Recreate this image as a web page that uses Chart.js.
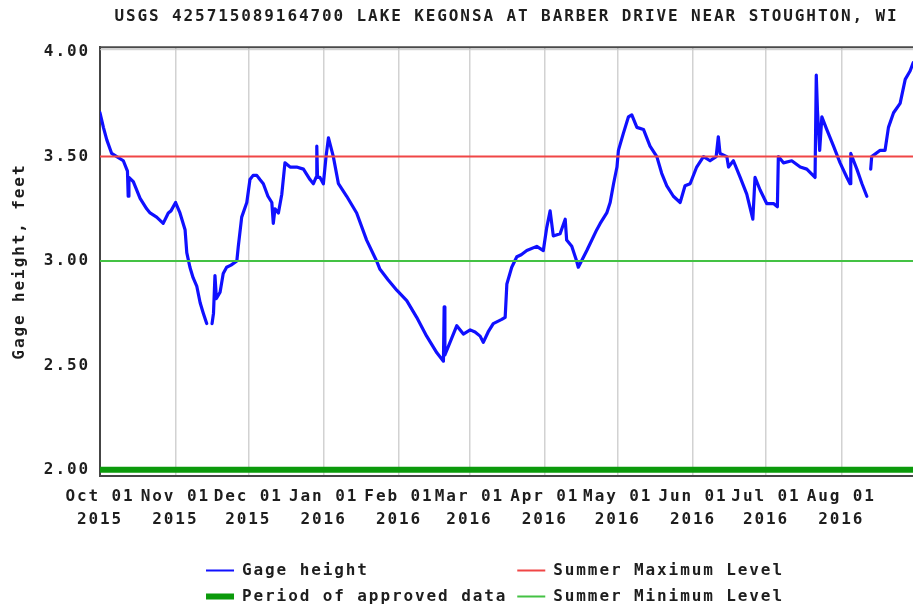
<!DOCTYPE html>
<html>
<head>
<meta charset="utf-8">
<script src="https://cdn.jsdelivr.net/npm/chart.js@4.4.1/dist/chart.umd.min.js"></script>
<style>
  html, body { margin: 0; padding: 0; background: #ffffff; }
  canvas { display: block; }
</style>
</head>
<body>
<canvas id="c" width="913" height="609"></canvas>
<script>
// ---- Data (days since Oct 01 2015, gage height in feet) ----
const chartTitle = "USGS 425715089164700 LAKE KEGONSA AT BARBER DRIVE NEAR STOUGHTON, WI";
const yAxisTitle = "Gage height, feet";

const gageDays = [
  0.0, 1.4, 2.8, 4.8, 6.9, 9.6, 11.3, 11.6, 11.9, 13.7, 16.5, 19.2, 20.6, 23.3, 26.0, 28.1, 29.2, 31.1, 32.9, 35.0,
  35.7, 37.0, 38.3, 39.8, 41.2, 42.5, 43.9, 45.0, 46.1, 46.7, 47.3, 47.9, 49.4, 50.7, 52.1, 53.9, 56.3, 56.9, 58.3,
  60.4, 61.7, 63.0, 64.5, 65.8, 67.2, 69.1, 70.7, 71.3, 72.0, 73.4, 74.8, 76.1, 78.2, 80.9, 83.7, 86.4, 87.8, 88.9,
  89.2, 89.5, 90.5, 91.9, 93.0, 94.0, 96.0, 98.1, 101.5, 105.6, 109.7, 113.8, 115.2, 118.5, 122.1, 126.2, 130.3,
  134.4, 138.6, 141.3, 141.6, 141.9, 143.3, 146.8, 149.5, 152.3, 154.3, 156.4, 157.7, 159.7, 161.8, 165.3, 166.7,
  167.4, 169.4, 171.5, 173.3, 175.6, 179.7, 182.4, 183.8, 185.2, 186.5, 189.3, 191.4, 192.0, 194.1, 196.1, 196.8,
  200.3, 204.4, 205.8, 208.5, 209.9, 211.3, 212.7, 213.3, 215.3, 217.4, 218.8, 220.9, 223.6, 226.3, 229.1, 231.1,
  233.2, 235.9, 238.7, 240.7, 242.8, 245.5, 248.3, 251.0, 253.5, 254.4, 255.1, 257.9, 258.6, 260.6, 263.4, 266.1,
  268.6, 269.5, 271.6, 274.3, 277.1, 278.7, 279.1, 281.2, 284.6, 288.1, 290.8, 294.2, 294.7, 295.2, 296.1, 297.0,
  299.0, 301.8, 304.5, 307.3, 308.6, 308.9, 311.4, 313.5, 315.5, 316.3, 317.1, 317.5, 321.0, 323.0, 324.4, 326.5,
  329.2, 331.3, 333.3, 334.6
];
const gageFeet = [
  3.71, 3.64, 3.58, 3.515, 3.50, 3.48, 3.43, 3.31, 3.40, 3.38, 3.30, 3.25, 3.23, 3.21, 3.18, 3.23, 3.24, 3.28, 3.23, 3.15,
  3.04, 2.97, 2.92, 2.88, 2.80, 2.75, 2.70, null, 2.70, 2.75, 2.93, 2.82, 2.85, 2.94, 2.97, 2.98, 3.00, 3.07, 3.21,
  3.28, 3.39, 3.41, 3.41, 3.39, 3.37, 3.31, 3.28, 3.18, 3.25, 3.23, 3.32, 3.47, 3.45, 3.45, 3.44, 3.39, 3.37, 3.40,
  3.55, 3.40, 3.40, 3.37, 3.50, 3.59, 3.50, 3.37, 3.31, 3.23, 3.10, 3.00, 2.96, 2.91, 2.86, 2.81, 2.73,
  2.64, 2.56, 2.52, 2.78, 2.55, 2.59, 2.69, 2.65, 2.67, 2.66, 2.64, 2.61, 2.66, 2.70, 2.72, 2.73,
  2.89, 2.97, 3.02, 3.03, 3.05, 3.07, 3.05, 3.16, 3.24, 3.12, 3.13, 3.20, 3.10, 3.07, 3.00, 2.97,
  3.05, 3.15, 3.18, 3.23, 3.28, 3.37, 3.45, 3.53, 3.61, 3.69, 3.70, 3.64, 3.63, 3.55, 3.50, 3.42,
  3.36, 3.31, 3.28, 3.36, 3.37, 3.45, 3.50, 3.48, 3.50, 3.595, 3.515, 3.50, 3.45, 3.48, 3.40, 3.32,
  3.20, 3.40, 3.34, 3.275, 3.275, 3.26, 3.50, 3.47, 3.48, 3.45, 3.44, 3.40, 3.89, 3.72, 3.53, 3.69,
  3.63, 3.55, 3.47, 3.40, 3.37, 3.515, 3.44, 3.37, 3.31, null, 3.44, 3.50, 3.53, 3.53, 3.64, 3.71,
  3.755, 3.87, 3.91, 3.95
];

const summerMaximumLevel = 3.5;
const summerMinimumLevel = 3.0;
const approvedDataLevel = 2.0;

const xStartDay = 0;
const xEndDay = 334.5;
const monthTickDays = [0, 31, 61, 92, 123, 152, 183, 213, 244, 274, 305];
const monthTickLabels = [
  ["Oct 01", "2015"], ["Nov 01", "2015"], ["Dec 01", "2015"], ["Jan 01", "2016"],
  ["Feb 01", "2016"], ["Mar 01", "2016"], ["Apr 01", "2016"], ["May 01", "2016"],
  ["Jun 01", "2016"], ["Jul 01", "2016"], ["Aug 01", "2016"]
];
const yTickValues = [2.0, 2.5, 3.0, 3.5, 4.0];
const yMin = 1.97;
const yMax = 4.024;

const legendNames = ["Gage height", "Summer Maximum Level", "Period of approved data", "Summer Minimum Level"];

// ---- Styles ----
const FONT = "'DejaVu Sans Mono', 'Liberation Mono', monospace";
const FSIZE = 16;
const LSPACE = '1.9px';
const TEXT = '#1e1e1e';
const BLUE = '#1010ff';
const RED = '#f04646';
const GREEN_THIN = '#44c244';
const GREEN_THICK = '#0b9a0b';

const gagePoints = gageDays.map((d, i) => ({ x: d, y: gageFeet[i] }));
const levelLine = (v) => [{ x: xStartDay, y: v }, { x: xEndDay, y: v }];

// pad names so the two legend columns line up (monospace font)
const padTo = (s, n) => s + ' '.repeat(Math.max(0, n - s.length));
const col1Len = Math.max(legendNames[0].length, legendNames[2].length);
const col2Len = Math.max(legendNames[1].length, legendNames[3].length) + 2;

const spacingPlugin = {
  id: 'spacing',
  beforeUpdate(c) { c.ctx.letterSpacing = LSPACE; },
  beforeLayout(c) { c.ctx.letterSpacing = LSPACE; },
  beforeDraw(c) { c.ctx.letterSpacing = LSPACE; }
};

const frameTopPlugin = {
  id: 'frameTop',
  afterDraw(c) {
    const a = c.chartArea, ctx = c.ctx;
    ctx.save();
    ctx.strokeStyle = '#4a4a4a';
    ctx.lineWidth = 2;
    ctx.beginPath();
    ctx.moveTo(a.left, a.top);
    ctx.lineTo(a.right, a.top);
    ctx.stroke();
    ctx.strokeStyle = '#c8c8c8';
    ctx.lineWidth = 1;
    ctx.beginPath();
    ctx.moveTo(a.left, a.top + 2.5);
    ctx.lineTo(a.right, a.top + 2.5);
    ctx.stroke();
    ctx.restore();
  }
};

new Chart(document.getElementById('c'), {
  type: 'line',
  data: {
    datasets: [
      { label: legendNames[1], data: levelLine(summerMaximumLevel), borderColor: RED, borderWidth: 2, order: 0 },
      { label: legendNames[3], data: levelLine(summerMinimumLevel), borderColor: GREEN_THIN, borderWidth: 2, order: 0 },
      { label: legendNames[2], data: levelLine(approvedDataLevel), borderColor: GREEN_THICK, borderWidth: 6, order: 0 },
      { label: legendNames[0], data: gagePoints, borderColor: BLUE, borderWidth: 3.2, order: 1, spanGaps: false }
    ]
  },
  options: {
    responsive: false,
    animation: false,
    devicePixelRatio: 1,
    parsing: false,
    elements: { point: { radius: 0 }, line: { tension: 0, borderJoinStyle: 'round', borderCapStyle: 'round' } },
    layout: { padding: { left: 0, right: 0, top: 0, bottom: -5.5 } },
    plugins: {
      tooltip: { enabled: false },
      title: {
        display: true,
        text: chartTitle,
        fullSize: false,
        color: TEXT,
        font: { family: FONT, size: FSIZE, weight: 'bold', lineHeight: 1.2 },
        padding: { top: 7, bottom: 21 }
      },
      legend: {
        position: 'bottom',
        fullSize: false,
        labels: {
          usePointStyle: true,
          pointStyleWidth: 28,
          padding: 10,
          color: TEXT,
          font: { family: FONT, size: FSIZE, weight: 'bold' },
          generateLabels() {
            return [
              { text: padTo(legendNames[0], col1Len), strokeStyle: BLUE, fillStyle: BLUE, lineWidth: 2, pointStyle: 'line', fontColor: TEXT },
              { text: padTo(legendNames[1], col2Len), strokeStyle: RED, fillStyle: RED, lineWidth: 2, pointStyle: 'line', fontColor: TEXT },
              { text: padTo(legendNames[2], col1Len), strokeStyle: GREEN_THICK, fillStyle: GREEN_THICK, lineWidth: 6, pointStyle: 'line', fontColor: TEXT },
              { text: padTo(legendNames[3], col2Len), strokeStyle: GREEN_THIN, fillStyle: GREEN_THIN, lineWidth: 2, pointStyle: 'line', fontColor: TEXT }
            ];
          }
        }
      }
    },
    scales: {
      x: {
        type: 'linear',
        min: xStartDay,
        max: xEndDay,
        afterBuildTicks(scale) { scale.ticks = monthTickDays.map(v => ({ value: v })); },
        afterFit(scale) { scale.height = 76.5; },
        ticks: {
          autoSkip: false,
          maxRotation: 0,
          minRotation: 0,
          padding: 9,
          color: TEXT,
          font: { family: FONT, size: FSIZE, weight: 'bold', lineHeight: 1.45 },
          callback(v) { const i = monthTickDays.indexOf(v); return i >= 0 ? monthTickLabels[i] : ''; }
        },
        grid: { color: '#d2d2d2', lineWidth: 1.5, drawTicks: false },
        border: { display: true, color: '#454545', width: 2 }
      },
      y: {
        type: 'linear',
        min: yMin,
        max: yMax,
        afterBuildTicks(scale) { scale.ticks = yTickValues.map(v => ({ value: v })); },
        afterFit(scale) { scale.width = 100; },
        ticks: {
          padding: 10,
          color: TEXT,
          font: { family: FONT, size: FSIZE, weight: 'bold' },
          callback(v) { return Number(v).toFixed(2); }
        },
        grid: { display: false, drawTicks: false },
        border: { display: true, color: '#454545', width: 2 },
        title: {
          display: true,
          text: yAxisTitle,
          color: TEXT,
          font: { family: FONT, size: FSIZE, weight: 'bold', lineHeight: 1.2 },
          padding: { top: 10, bottom: 0 }
        }
      }
    }
  },
  plugins: [spacingPlugin, frameTopPlugin]
});
</script>
</body>
</html>
